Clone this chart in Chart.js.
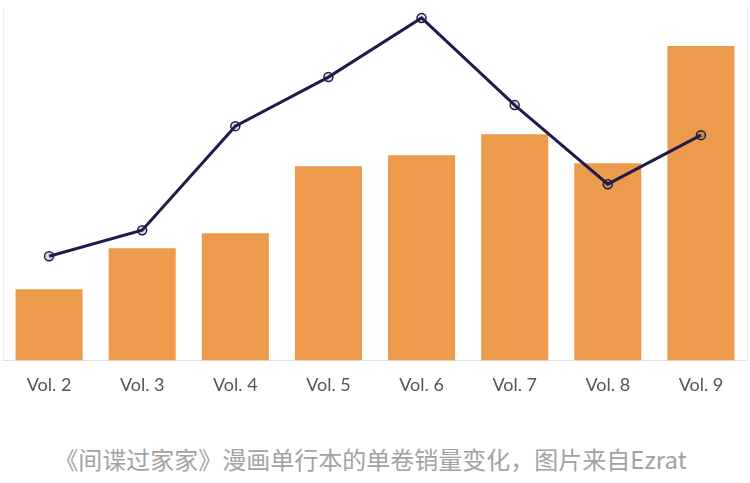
<!DOCTYPE html>
<html>
<head>
<meta charset="utf-8">
<script src="https://cdn.jsdelivr.net/npm/chart.js@4/dist/chart.umd.min.js"></script>
<style>
  body { margin: 0; background: #fff; width: 750px; height: 483px; overflow: hidden; }
  #wrap { position: absolute; left: 0; top: 0; width: 750px; height: 416px; }
  #caption {
    position: absolute; left: 0; top: 444px; width: 741px; text-align: center;
    font-family: "Noto Sans CJK SC", "Noto Sans", sans-serif; font-size: 24px;
    color: #a3a3a3; line-height: 30px;
  }
</style>
</head>
<body>
<div id="wrap"><canvas id="chart"></canvas></div>
<div id="caption">《间谍过家家》漫画单行本的单卷销量变化，图片来自Ezrat</div>
<script>
const volumes = ['Vol. 2', 'Vol. 3', 'Vol. 4', 'Vol. 5', 'Vol. 6', 'Vol. 7', 'Vol. 8', 'Vol. 9'];
// bar series: single volume sales (relative units)
const volumeSales = [71, 112, 127, 194, 205, 226, 197, 314];
// line series: second measure on its own hidden axis
const lineValues = [104, 130, 234, 283, 342, 255, 176, 225];

const barColor = '#ec9a4b';
const lineColor = '#1e1c48';

// faint frame lines at the left and right edge of the plot
const edgeLines = {
    id: 'edgeLines',
    beforeDatasetsDraw(chart) {
        const { ctx, chartArea } = chart;
        ctx.save();
        ctx.strokeStyle = '#ececec';
        ctx.lineWidth = 1;
        ctx.beginPath();
        ctx.moveTo(Math.round(chartArea.left) + 0.5, chartArea.top);
        ctx.lineTo(Math.round(chartArea.left) + 0.5, chartArea.bottom);
        ctx.moveTo(Math.round(chartArea.right) - 0.5, chartArea.top);
        ctx.lineTo(Math.round(chartArea.right) - 0.5, chartArea.bottom);
        ctx.stroke();
        ctx.restore();
    }
};

const ctx = document.getElementById('chart').getContext('2d');
const chart = new Chart(ctx, {
    type: 'bar',
    data: {
        labels: volumes,
        datasets: [
            {
                type: 'line',
                label: 'line',
                data: lineValues,
                yAxisID: 'y1',
                borderColor: lineColor,
                borderWidth: 3,
                pointRadius: 4.5,
                pointBorderWidth: 1.5,
                pointBorderColor: lineColor,
                pointBackgroundColor: 'rgba(30, 28, 72, 0.15)',
                tension: 0,
                clip: false,
                order: 0
            },
            {
                label: 'sales',
                data: volumeSales,
                backgroundColor: barColor,
                borderWidth: 0,
                categoryPercentage: 0.8,
                barPercentage: 0.9,
                order: 1
            }
        ]
    },
    options: {
        responsive: true,
        maintainAspectRatio: false,
        animation: false,
        layout: { autoPadding: false, padding: { top: 8, left: 2.5, right: 2.5, bottom: 6 } },
        plugins: {
            legend: { display: false },
            tooltip: { enabled: false }
        },
        scales: {
            x: {
                grid: { display: false, drawTicks: false },
                border: { color: '#e3e3e3', width: 1 },
                ticks: {
                    color: '#555555',
                    padding: 14,
                    font: { family: 'Lato, "Noto Sans", sans-serif', size: 18 }
                }
            },
            y: {
                display: false,
                min: 0,
                max: 352
            },
            y1: {
                display: false,
                position: 'right',
                min: 0,
                max: 352
            }
        }
    },
    plugins: [edgeLines]
});
</script>
</body>
</html>
